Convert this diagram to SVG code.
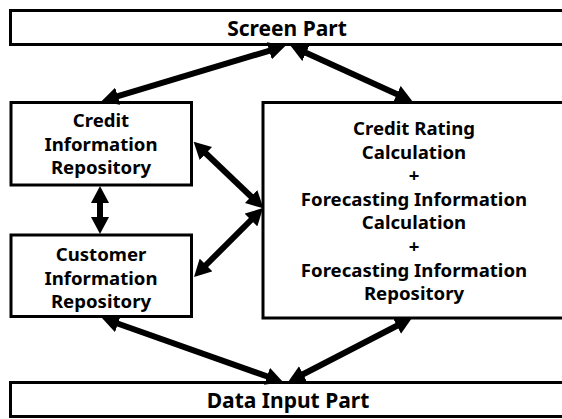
<svg xmlns="http://www.w3.org/2000/svg" width="562" height="419" viewBox="0 0 562 419">
<style>
.box{fill:#fff;stroke:#000;stroke-width:3}
.t{font-family:"Noto Sans","Liberation Sans",sans-serif;font-weight:bold;fill:#000;text-anchor:middle}
.big{font-size:21px}
.in{font-size:18.6px}
.c{fill:none;stroke:#000;stroke-width:6;marker-start:url(#ah);marker-end:url(#ah)}
</style>
<defs>
<marker id="ah" markerUnits="userSpaceOnUse" markerWidth="17" markerHeight="18" refX="5" refY="9" orient="auto-start-reverse" viewBox="0 0 17 18">
<path d="M0,0 L17,9 L0,18 z" fill="#000"/>
</marker>
</defs>
<rect width="562" height="419" fill="#fff"/>
<g id="screen">
<rect class="box" x="10.5" y="10.5" width="600" height="34"/>
<text class="t big" x="287" y="35.5">Screen Part</text>
</g>
<g id="credit">
<rect class="box" x="11" y="102.5" width="180.5" height="82.5"/>
<text class="t in" x="101" y="127">Credit</text>
<text class="t in" x="101" y="150.5">Information</text>
<text class="t in" x="101" y="174">Repository</text>
</g>
<g id="customer">
<rect class="box" x="11" y="235" width="180.5" height="81.5"/>
<text class="t in" x="101" y="261">Customer</text>
<text class="t in" x="101" y="284.5">Information</text>
<text class="t in" x="101" y="308">Repository</text>
</g>
<g id="calc">
<rect class="box" x="263" y="102.5" width="400" height="215.5"/>
<text class="t in" x="414" y="135">Credit Rating</text>
<text class="t in" x="414" y="158.6">Calculation</text>
<text class="t in" x="414" y="182.2">+</text>
<text class="t in" x="414" y="205.8">Forecasting Information</text>
<text class="t in" x="414" y="229.4">Calculation</text>
<text class="t in" x="414" y="253">+</text>
<text class="t in" x="414" y="276.6">Forecasting Information</text>
<text class="t in" x="414" y="300.2">Repository</text>
</g>
<g id="input">
<rect class="box" x="10.5" y="382.5" width="600" height="34"/>
<text class="t big" x="288" y="408">Data Input Part</text>
</g>
<g id="connectors">
<path class="c" d="M274,49.3 L113,97.7"/>
<path class="c" d="M301.5,50.8 L401.5,96.2"/>
<path class="c" d="M202.3,150 L254.7,200"/>
<path class="c" d="M254.5,216.5 L202.5,268.5"/>
<path class="c" d="M100,198 L100,222"/>
<path class="c" d="M113.3,322 L271.7,378"/>
<path class="c" d="M401.3,323.5 L298.7,376.5"/>
</g>
</svg>
